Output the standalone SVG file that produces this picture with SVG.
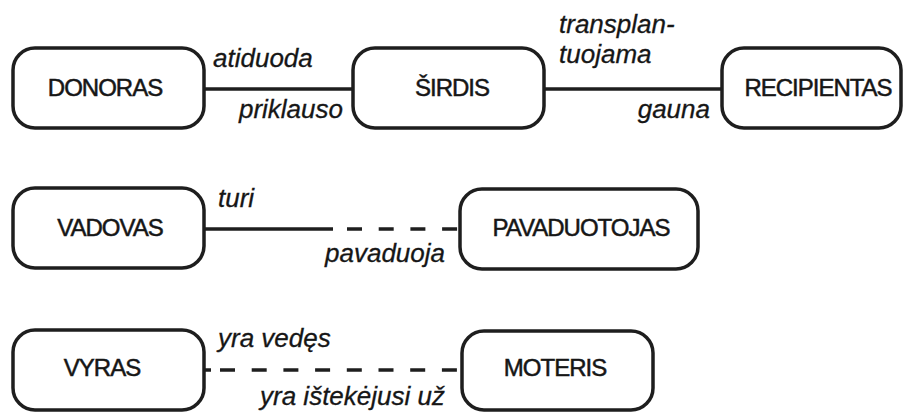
<svg xmlns="http://www.w3.org/2000/svg" width="904" height="412" viewBox="0 0 904 412">
  <style>
    .box { fill: #ffffff; stroke: #1e1e1e; stroke-width: 3.5; }
    .name { font-family: "Liberation Sans", Arial, sans-serif; font-size: 24px; letter-spacing: -1px; fill: #161616; stroke: #161616; stroke-width: 0.5; text-anchor: middle; }
    .role { font-family: "Liberation Sans", Arial, sans-serif; font-size: 26px; font-style: italic; fill: #161616; stroke: #161616; stroke-width: 0.3; }
    .end { text-anchor: end; }
    .link { stroke: #1e1e1e; stroke-width: 3.5; fill: none; }
    .dash { stroke-dasharray: 15 16.7; }
  </style>
  <rect width="904" height="412" fill="#ffffff"/>

  <!-- connectors -->
  <g id="connectors">
    <line class="link" x1="204" y1="89" x2="353" y2="89"/>
    <line class="link" x1="544" y1="89" x2="722" y2="89"/>
    <line class="link" x1="204" y1="229" x2="333" y2="229"/>
    <line class="link dash" x1="347" y1="229" x2="460" y2="229"/>
    <line class="link" x1="204" y1="370" x2="211" y2="370"/>
    <line class="link dash" x1="220" y1="370" x2="462" y2="370"/>
  </g>

  <!-- relationship labels -->
  <g id="labels">
    <text class="role" x="213" y="67">atiduoda</text>
    <text class="role end" x="343" y="118">priklauso</text>
    <text class="role" x="559" y="33">transplan-</text>
    <text class="role" x="559" y="63">tuojama</text>
    <text class="role end" x="710" y="118">gauna</text>
    <text class="role" x="218" y="207">turi</text>
    <text class="role end" x="445" y="262">pavaduoja</text>
    <text class="role" x="218" y="347">yra vedęs</text>
    <text class="role end" x="445" y="405">yra ištekėjusi už</text>
  </g>

  <!-- entities -->
  <g id="donoras">
    <rect class="box" x="13" y="48" width="191" height="80" rx="22"/>
    <text class="name" x="105" y="96">DONORAS</text>
  </g>
  <g id="sirdis">
    <rect class="box" x="353" y="48" width="191" height="80" rx="22"/>
    <text class="name" x="452" y="96">ŠIRDIS</text>
  </g>
  <g id="recipientas">
    <rect class="box" x="722" y="48" width="179" height="80" rx="22"/>
    <text class="name" x="818" y="96">RECIPIENTAS</text>
  </g>
  <g id="vadovas">
    <rect class="box" x="13" y="188" width="191" height="80" rx="22"/>
    <text class="name" x="110" y="236">VADOVAS</text>
  </g>
  <g id="pavaduotojas">
    <rect class="box" x="460" y="189" width="238" height="80" rx="22"/>
    <text class="name" x="581" y="236">PAVADUOTOJAS</text>
  </g>
  <g id="vyras">
    <rect class="box" x="13" y="330" width="191" height="80" rx="22"/>
    <text class="name" x="102" y="376">VYRAS</text>
  </g>
  <g id="moteris">
    <rect class="box" x="462" y="331" width="191" height="79" rx="22"/>
    <text class="name" x="555" y="376">MOTERIS</text>
  </g>
</svg>
